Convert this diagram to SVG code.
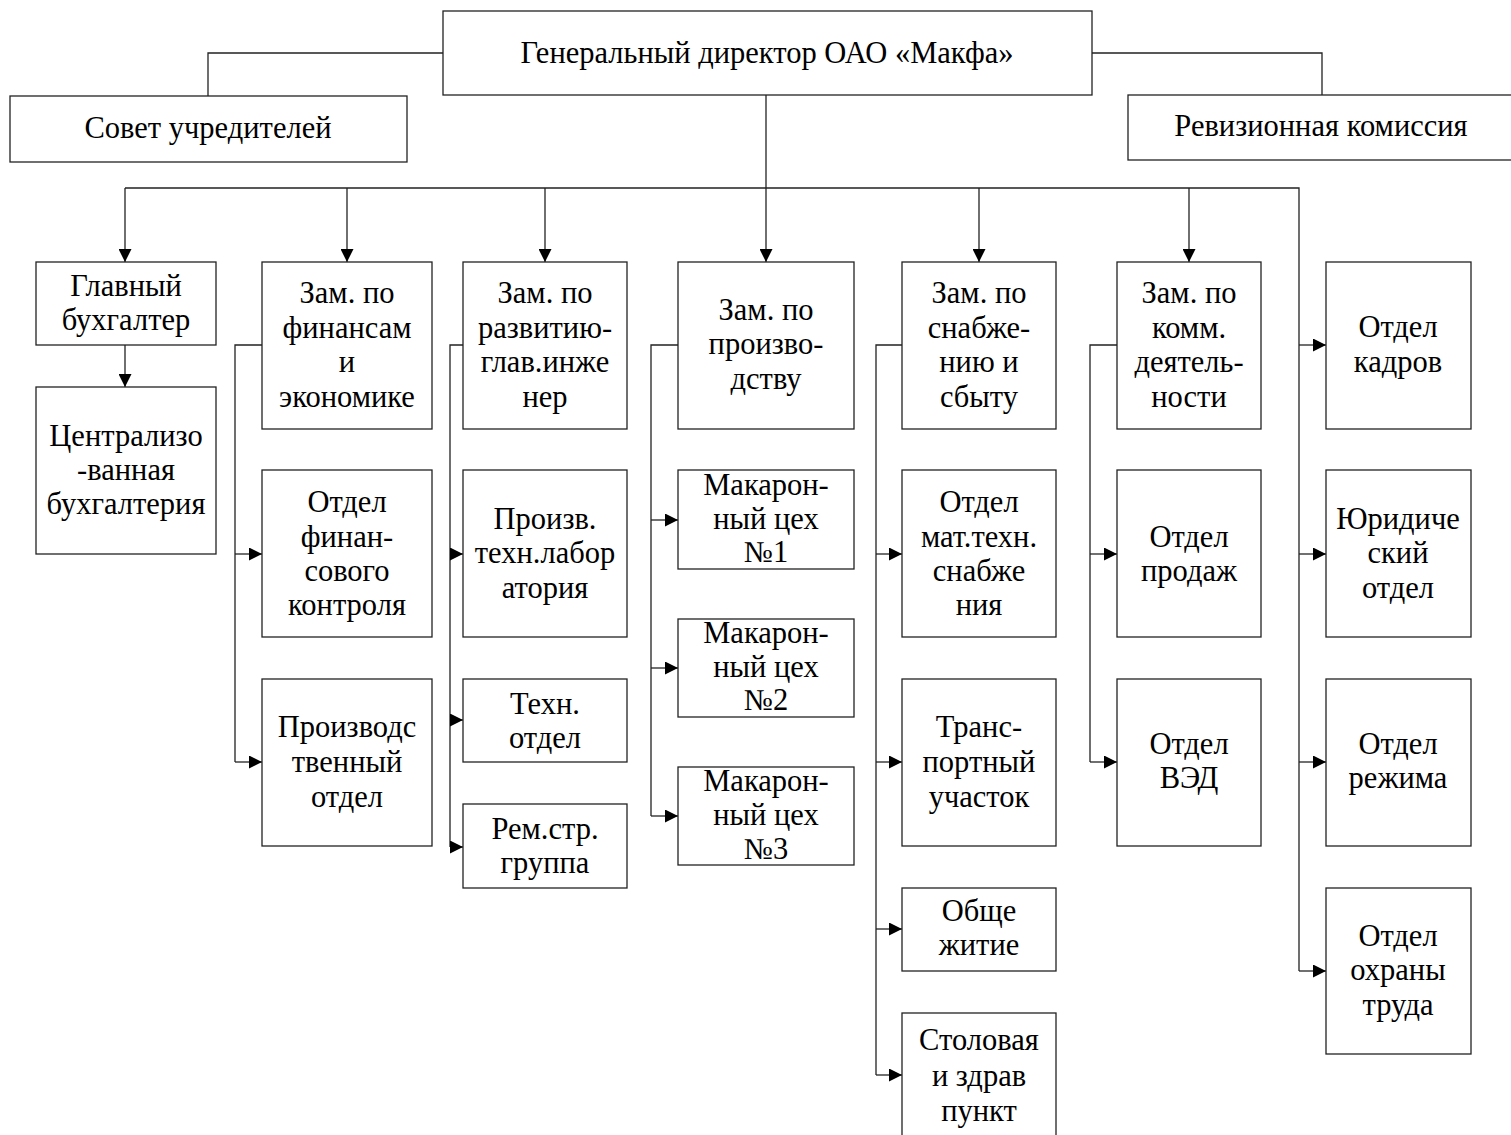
<svg xmlns="http://www.w3.org/2000/svg" width="1511" height="1135" viewBox="0 0 1511 1135">
<style>
  .box { fill: #fff; stroke: #222; stroke-width: 1.3; }
  .ln { fill: none; stroke: #222; stroke-width: 1.3; }
  .arr { fill: none; stroke: #222; stroke-width: 1.3; marker-end: url(#ah); }
  text { font-family: "Liberation Serif", "Times New Roman", serif; font-size: 30.5px; fill: #000; text-anchor: middle; }
</style>
<defs>
  <marker id="ah" markerUnits="userSpaceOnUse" markerWidth="14" markerHeight="13" refX="13" refY="6.5" orient="auto">
    <path d="M0,0 L13,6.5 L0,13 z" fill="#000"/>
  </marker>
</defs>
<rect width="1511" height="1135" fill="#fff"/>

<g id="connectors">
  <path class="ln" d="M443,53 H208 V96"/>
  <path class="ln" d="M1092,53 H1322 V95"/>
  <path class="ln" d="M766,95 V188"/>
  <path class="ln" d="M125,188 H1299 V971"/>
  <path class="arr" d="M125,188 V262"/>
  <path class="arr" d="M347,188 V262"/>
  <path class="arr" d="M545,188 V262"/>
  <path class="arr" d="M766,188 V262"/>
  <path class="arr" d="M979,188 V262"/>
  <path class="arr" d="M1189,188 V262"/>
  <path class="arr" d="M125,345 V387"/>
  <path class="ln" d="M262,345 H235 V762"/>
  <path class="arr" d="M235,554 H262"/>
  <path class="arr" d="M235,762 H262"/>
  <path class="ln" d="M463,345 H450 V847"/>
  <path class="arr" d="M450,554 H463"/>
  <path class="arr" d="M450,720 H463"/>
  <path class="arr" d="M450,847 H463"/>
  <path class="ln" d="M678,345 H651 V816"/>
  <path class="arr" d="M651,520 H678"/>
  <path class="arr" d="M651,668 H678"/>
  <path class="arr" d="M651,816 H678"/>
  <path class="ln" d="M902,345 H876 V1075"/>
  <path class="arr" d="M876,554 H902"/>
  <path class="arr" d="M876,762 H902"/>
  <path class="arr" d="M876,929 H902"/>
  <path class="arr" d="M876,1075 H902"/>
  <path class="ln" d="M1117,345 H1090 V762"/>
  <path class="arr" d="M1090,554 H1117"/>
  <path class="arr" d="M1090,762 H1117"/>
  <path class="arr" d="M1299,345 H1326"/>
  <path class="arr" d="M1299,554 H1326"/>
  <path class="arr" d="M1299,762 H1326"/>
  <path class="arr" d="M1299,971 H1326"/>
</g>

<g id="gd"><rect class="box" x="443" y="11" width="649" height="84"/><text x="767" y="63">Генеральный директор ОАО «Макфа»</text></g>
<g id="sovet"><rect class="box" x="10" y="96" width="397" height="66"/><text x="208" y="138">Совет учредителей</text></g>
<g id="revizia"><rect class="box" x="1128" y="95" width="390" height="65"/><text x="1321" y="136">Ревизионная комиссия</text></g>

<g id="glbuh"><rect class="box" x="36" y="262" width="180" height="83"/><text x="126" y="296">Главный</text><text x="126" y="330">бухгалтер</text></g>
<g id="centrbuh"><rect class="box" x="36" y="387" width="180" height="167"/><text x="126" y="446">Централизо</text><text x="126" y="480">-ванная</text><text x="126" y="514">бухгалтерия</text></g>

<g id="zamfin"><rect class="box" x="262" y="262" width="170" height="167"/><text x="347" y="303">Зам. по</text><text x="347" y="338">финансам</text><text x="347" y="372">и</text><text x="347" y="407">экономике</text></g>
<g id="finkontrol"><rect class="box" x="262" y="470" width="170" height="167"/><text x="347" y="512">Отдел</text><text x="347" y="547">финан-</text><text x="347" y="581">сового</text><text x="347" y="615">контроля</text></g>
<g id="proizvotdel"><rect class="box" x="262" y="679" width="170" height="167"/><text x="347" y="737">Производс</text><text x="347" y="772">твенный</text><text x="347" y="807">отдел</text></g>

<g id="zamrazv"><rect class="box" x="463" y="262" width="164" height="167"/><text x="545" y="303">Зам. по</text><text x="545" y="338">развитию-</text><text x="545" y="372">глав.инже</text><text x="545" y="407">нер</text></g>
<g id="lab"><rect class="box" x="463" y="470" width="164" height="167"/><text x="545" y="529">Произв.</text><text x="545" y="563">техн.лабор</text><text x="545" y="598">атория</text></g>
<g id="tehotdel"><rect class="box" x="463" y="679" width="164" height="83"/><text x="545" y="714">Техн.</text><text x="545" y="748">отдел</text></g>
<g id="remstr"><rect class="box" x="463" y="804" width="164" height="84"/><text x="545" y="839">Рем.стр.</text><text x="545" y="873">группа</text></g>

<g id="zamproizv"><rect class="box" x="678" y="262" width="176" height="167"/><text x="766" y="320">Зам. по</text><text x="766" y="354">произво-</text><text x="766" y="389">дству</text></g>
<g id="ceh1"><rect class="box" x="678" y="470" width="176" height="99"/><text x="766" y="495">Макарон-</text><text x="766" y="529">ный цех</text><text x="766" y="562">№1</text></g>
<g id="ceh2"><rect class="box" x="678" y="619" width="176" height="98"/><text x="766" y="643">Макарон-</text><text x="766" y="677">ный цех</text><text x="766" y="710">№2</text></g>
<g id="ceh3"><rect class="box" x="678" y="767" width="176" height="98"/><text x="766" y="791">Макарон-</text><text x="766" y="825">ный цех</text><text x="766" y="859">№3</text></g>

<g id="zamsnab"><rect class="box" x="902" y="262" width="154" height="167"/><text x="979" y="303">Зам. по</text><text x="979" y="338">снабже-</text><text x="979" y="372">нию и</text><text x="979" y="407">сбыту</text></g>
<g id="mattehn"><rect class="box" x="902" y="470" width="154" height="167"/><text x="979" y="512">Отдел</text><text x="979" y="547">мат.техн.</text><text x="979" y="581">снабже</text><text x="979" y="615">ния</text></g>
<g id="transport"><rect class="box" x="902" y="679" width="154" height="167"/><text x="979" y="737">Транс-</text><text x="979" y="772">портный</text><text x="979" y="807">участок</text></g>
<g id="obshezhitie"><rect class="box" x="902" y="888" width="154" height="83"/><text x="979" y="921">Обще</text><text x="979" y="955">житие</text></g>
<g id="stolovaya"><rect class="box" x="902" y="1013" width="154" height="130"/><text x="979" y="1050">Столовая</text><text x="979" y="1086">и здрав</text><text x="979" y="1121">пункт</text></g>

<g id="zamkomm"><rect class="box" x="1117" y="262" width="144" height="167"/><text x="1189" y="303">Зам. по</text><text x="1189" y="338">комм.</text><text x="1189" y="372">деятель-</text><text x="1189" y="407">ности</text></g>
<g id="prodazh"><rect class="box" x="1117" y="470" width="144" height="167"/><text x="1189" y="547">Отдел</text><text x="1189" y="581">продаж</text></g>
<g id="ved"><rect class="box" x="1117" y="679" width="144" height="167"/><text x="1189" y="754">Отдел</text><text x="1189" y="788">ВЭД</text></g>

<g id="kadry"><rect class="box" x="1326" y="262" width="145" height="167"/><text x="1398" y="337">Отдел</text><text x="1398" y="372">кадров</text></g>
<g id="yurid"><rect class="box" x="1326" y="470" width="145" height="167"/><text x="1398" y="529">Юридиче</text><text x="1398" y="563">ский</text><text x="1398" y="598">отдел</text></g>
<g id="rezhim"><rect class="box" x="1326" y="679" width="145" height="167"/><text x="1398" y="754">Отдел</text><text x="1398" y="788">режима</text></g>
<g id="ohrana"><rect class="box" x="1326" y="888" width="145" height="166"/><text x="1398" y="946">Отдел</text><text x="1398" y="980">охраны</text><text x="1398" y="1015">труда</text></g>
</svg>
